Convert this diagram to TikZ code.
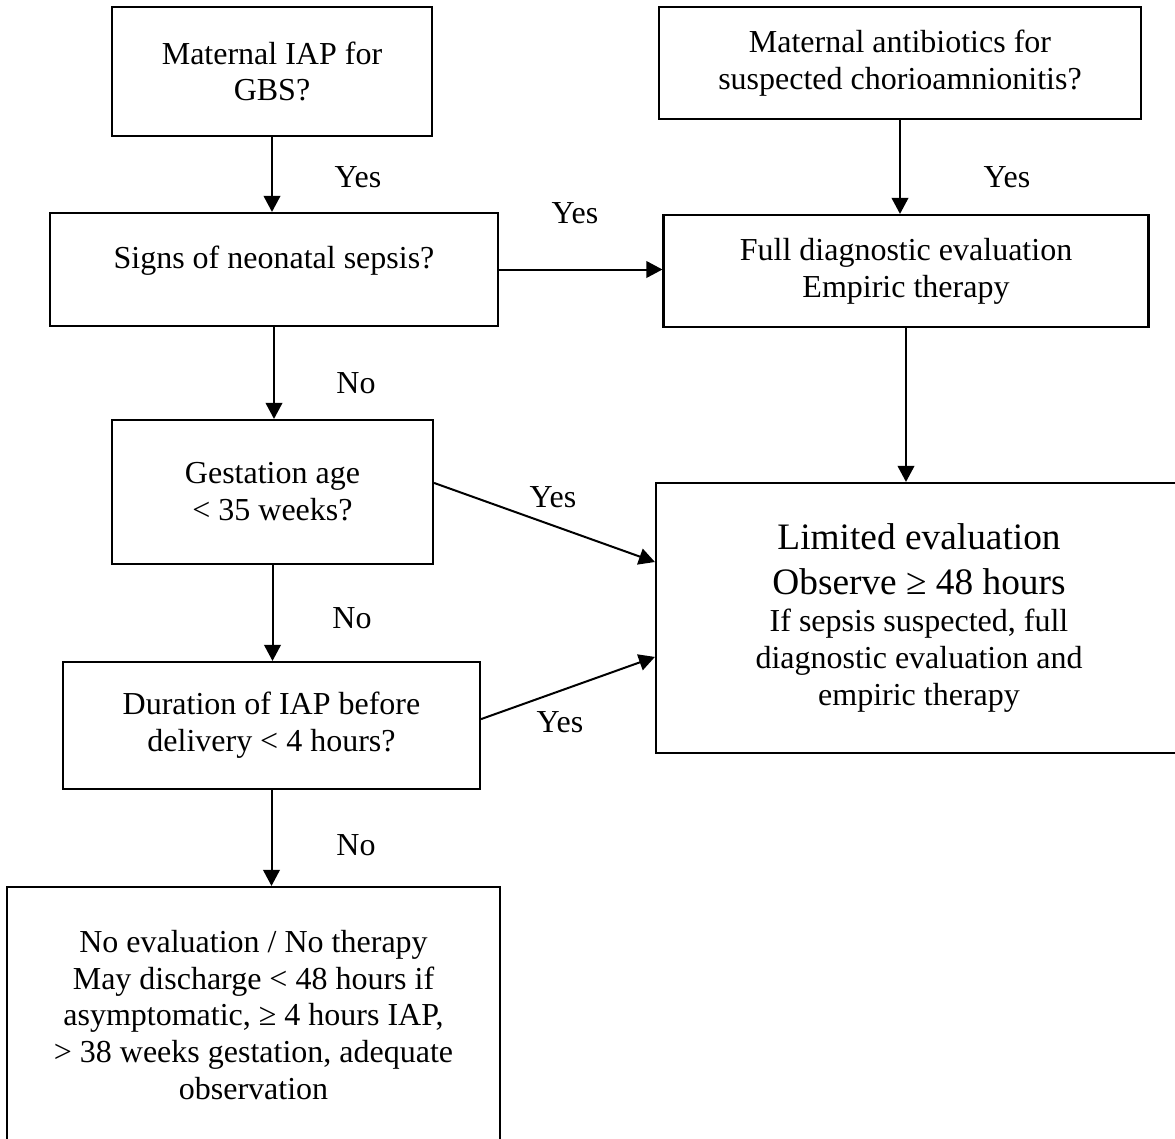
\documentclass[tikz,border=0pt]{standalone}
\usepackage{fontspec}
\setmainfont{Liberation Serif}
\usetikzlibrary{arrows.meta}
\newcommand{\normtxt}{\fontsize{12}{13.8}\selectfont}
\newcommand{\bigtxt}{\fontsize{14}{17.2}\selectfont}

\begin{document}
\begin{tikzpicture}[x=0.375pt, y=-0.375pt,
  box/.style={draw, line width=0.8pt, align=center, inner sep=0pt, font=\normtxt},
  lbl/.style={font=\normtxt, inner sep=0pt},
  arr/.style={-{Triangle[length=6pt,width=6.2pt]}, line width=0.75pt}]

  \newcommand\PX{0.375pt}

  \useasboundingbox (0,0) rectangle (1175,1139);
  \clip (0,0) rectangle (1175,1139);

  % left column
  \node[box, minimum width=320*\PX, minimum height=129*\PX] (iap) at (272,71.5)
    {Maternal IAP for\\GBS?};
  \node[box, minimum width=448*\PX, minimum height=113*\PX, text depth=9.4pt] (signs) at (274,269.5)
    {Signs of neonatal sepsis?};
  \node[box, minimum width=321*\PX, minimum height=144*\PX] (gest) at (272.5,492)
    {Gestation age\\< 35 weeks?};
  \node[box, minimum width=417*\PX, minimum height=127*\PX] (dur) at (271.5,725.5)
    {Duration of IAP before\\delivery < 4 hours?};
  \node[box, minimum width=493*\PX, minimum height=256*\PX] (noeval) at (253.5,1015)
    {No evaluation / No therapy\\May discharge < 48 hours if\\asymptomatic, ≥ 4 hours IAP,\\> 38 weeks gestation, adequate\\observation};

  % right column
  \node[box, minimum width=482*\PX, minimum height=112*\PX] (abx) at (900,63)
    {Maternal antibiotics for\\suspected chorioamnionitis?};
  \node[box, minimum width=485*\PX, minimum height=112*\PX] (fulldx) at (906,271)
    {Full diagnostic evaluation\\Empiric therapy};
  \node[box, minimum width=526*\PX, minimum height=270*\PX] (limited) at (919,618)
    {\bigtxt Limited evaluation\\[3pt]\bigtxt Observe ≥ 48 hours\\\normtxt If sepsis suspected, full\\diagnostic evaluation and\\empiric therapy};

  % connectors
  \draw[arr] (iap.south) -- (iap.south |- signs.north);
  \draw[arr] (abx.south) -- (abx.south |- fulldx.north);
  \draw[arr] (signs.east) -- (signs.east -| fulldx.west);
  \draw[arr] (signs.south) -- (signs.south |- gest.north);
  \draw[arr] (fulldx.south) -- (fulldx.south |- limited.north);
  \draw[arr] ([yshift=3.4pt]gest.east) -- ([yshift=21pt]limited.west);
  \draw[arr] (gest.south) -- (gest.south |- dur.north);
  \draw[arr] ([yshift=2.4pt]dur.east) -- ([yshift=-14.6pt]limited.west);
  \draw[arr] (dur.south) -- (dur.south |- noeval.north);

  % answers
  \node[lbl] (yes1) at (358,177) {Yes};
  \node[lbl] (yes2) at (1007,177) {Yes};
  \node[lbl] (yes3) at (575,213) {Yes};
  \node[lbl] (no1) at (356,383) {No};
  \node[lbl] (yes4) at (553,497) {Yes};
  \node[lbl] (no2) at (352,618) {No};
  \node[lbl] (yes5) at (560,722) {Yes};
  \node[lbl] (no3) at (356,845) {No};
\end{tikzpicture}
\end{document}
